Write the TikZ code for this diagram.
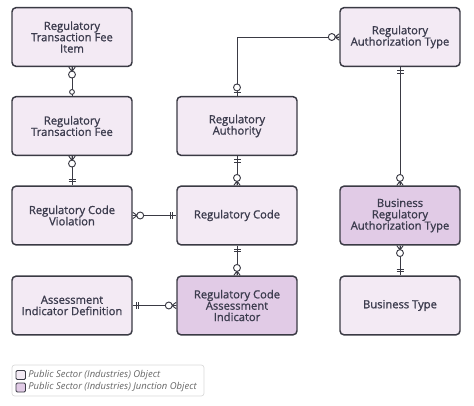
\documentclass[tikz,border=0pt]{standalone}
\usepackage{fontspec}
\setmainfont{Open Sans}
\newfontfamily\entfont{Open Sans}[FakeBold=1.2]
\usetikzlibrary{calc}

\definecolor{objfill}{HTML}{F3EAF4}
\definecolor{junfill}{HTML}{E1CBE6}
\definecolor{edge}{HTML}{3A3A44}
\definecolor{txt}{HTML}{3C3C4E}

\tikzset{
	entity/.style={draw=edge,line width=1.1pt,rounded corners=3pt,fill=objfill,
		minimum width=90pt,minimum height=44pt,align=center,text=txt,
		font=\entfont\fontsize{8.4}{8.5}\selectfont},
	junction/.style={entity,fill=junfill},
	conn/.style={draw=edge,line width=0.7pt},
}

% ends of the connectors: anchor, angle pointing away from the box
\newcommand{\crowzero}[2]{%
	\begin{scope}[shift={(#1)},rotate=#2]
		\draw[conn] (0,-3.2) -- (4.5,0) -- (0,3.2) (0,0) -- (4.5,0);
		\draw[conn,fill=white] (7.5,0) circle (2.6pt);
	\end{scope}}
\newcommand{\onlyone}[2]{%
	\begin{scope}[shift={(#1)},rotate=#2]
		\draw[conn] (3.5,-3.5) -- (3.5,3.5) (6,-3.5) -- (6,3.5);
	\end{scope}}
\newcommand{\zeroone}[2]{%
	\begin{scope}[shift={(#1)},rotate=#2]
		\draw[conn] (3,-3.5) -- (3,3.5);
		\draw[conn,fill=white] (8.5,0) circle (2.6pt);
	\end{scope}}
\newcommand{\zeroonly}[2]{%
	\begin{scope}[shift={(#1)},rotate=#2]
		\draw[conn,fill=white] (4,0) circle (1.8pt);
	\end{scope}}

\begin{document}
\begin{tikzpicture}[x=0.75pt,y=-0.75pt]
	\useasboundingbox (0,0) rectangle (474,406);

	% entities
	\node[entity] (rtfi) at (72,37) {Regulatory\\Transaction Fee\\Item};
	\node[entity] (rtf) at (72,126) {Regulatory\\Transaction Fee};
	\node[entity] (rcv) at (72,215.5) {Regulatory Code\\Violation};
	\node[entity] (aid) at (72,305.5) {Assessment\\Indicator Definition};
	\node[entity] (ra) at (237,126) {Regulatory\\Authority};
	\node[entity] (rc) at (237,215.5) {Regulatory Code};
	\node[junction] (rcai) at (237,305.5) {Regulatory Code\\Assessment\\Indicator};
	\node[entity] (rat) at (400,37) {Regulatory\\Authorization Type};
	\node[junction] (brat) at (400,215.5) {Business\\Regulatory\\Authorization Type};
	\node[entity] (bt) at (400,305.5) {Business Type};

	% relationships
	\draw[conn] (rtfi.south) -- (rtf.north);
	\draw[conn] (rtf.south) -- (rcv.north);
	\draw[conn] (rcv.east) -- (rc.west);
	\draw[conn] (ra.south) -- (rc.north);
	\draw[conn] (ra.north) |- (rat.west);
	\draw[conn] (rc.south) -- (rcai.north);
	\draw[conn] (aid.east) -- (rcai.west);
	\draw[conn] (rat.south) -- (brat.north);
	\draw[conn] (brat.south) -- (bt.north);

	\crowzero{rtfi.south}{-90} \zeroonly{rtf.north}{90}
	\crowzero{rtf.south}{-90} \onlyone{rcv.north}{90}
	\crowzero{rcv.east}{0} \onlyone{rc.west}{180}
	\onlyone{ra.south}{-90} \crowzero{rc.north}{90}
	\zeroone{ra.north}{90} \crowzero{rat.west}{180}
	\onlyone{rc.south}{-90} \crowzero{rcai.north}{90}
	\onlyone{aid.east}{0} \crowzero{rcai.west}{180}
	\onlyone{rat.south}{-90} \crowzero{brat.north}{90}
	\crowzero{brat.south}{-90} \onlyone{bt.north}{90}

	% legend
	\draw[draw=black!15,fill=white,rounded corners=2pt,line width=0.5pt] (12,365) rectangle (204,396);
	\draw[draw=edge,fill=objfill,rounded corners=1pt,line width=0.7pt] (16,370.5) rectangle (25.5,379.5);
	\draw[draw=edge,fill=junfill,rounded corners=1pt,line width=0.7pt] (16,383) rectangle (25.5,392);
	\node[anchor=west,inner sep=0pt,text=black!60,font=\fontsize{7.1}{8}\selectfont\itshape] (lobj) at (28,375) {Public Sector (Industries) Object};
	\node[anchor=west,inner sep=0pt,text=black!60,font=\fontsize{7.1}{8}\selectfont\itshape] (ljun) at (28,387.5) {Public Sector (Industries) Junction Object};
\end{tikzpicture}
\end{document}
